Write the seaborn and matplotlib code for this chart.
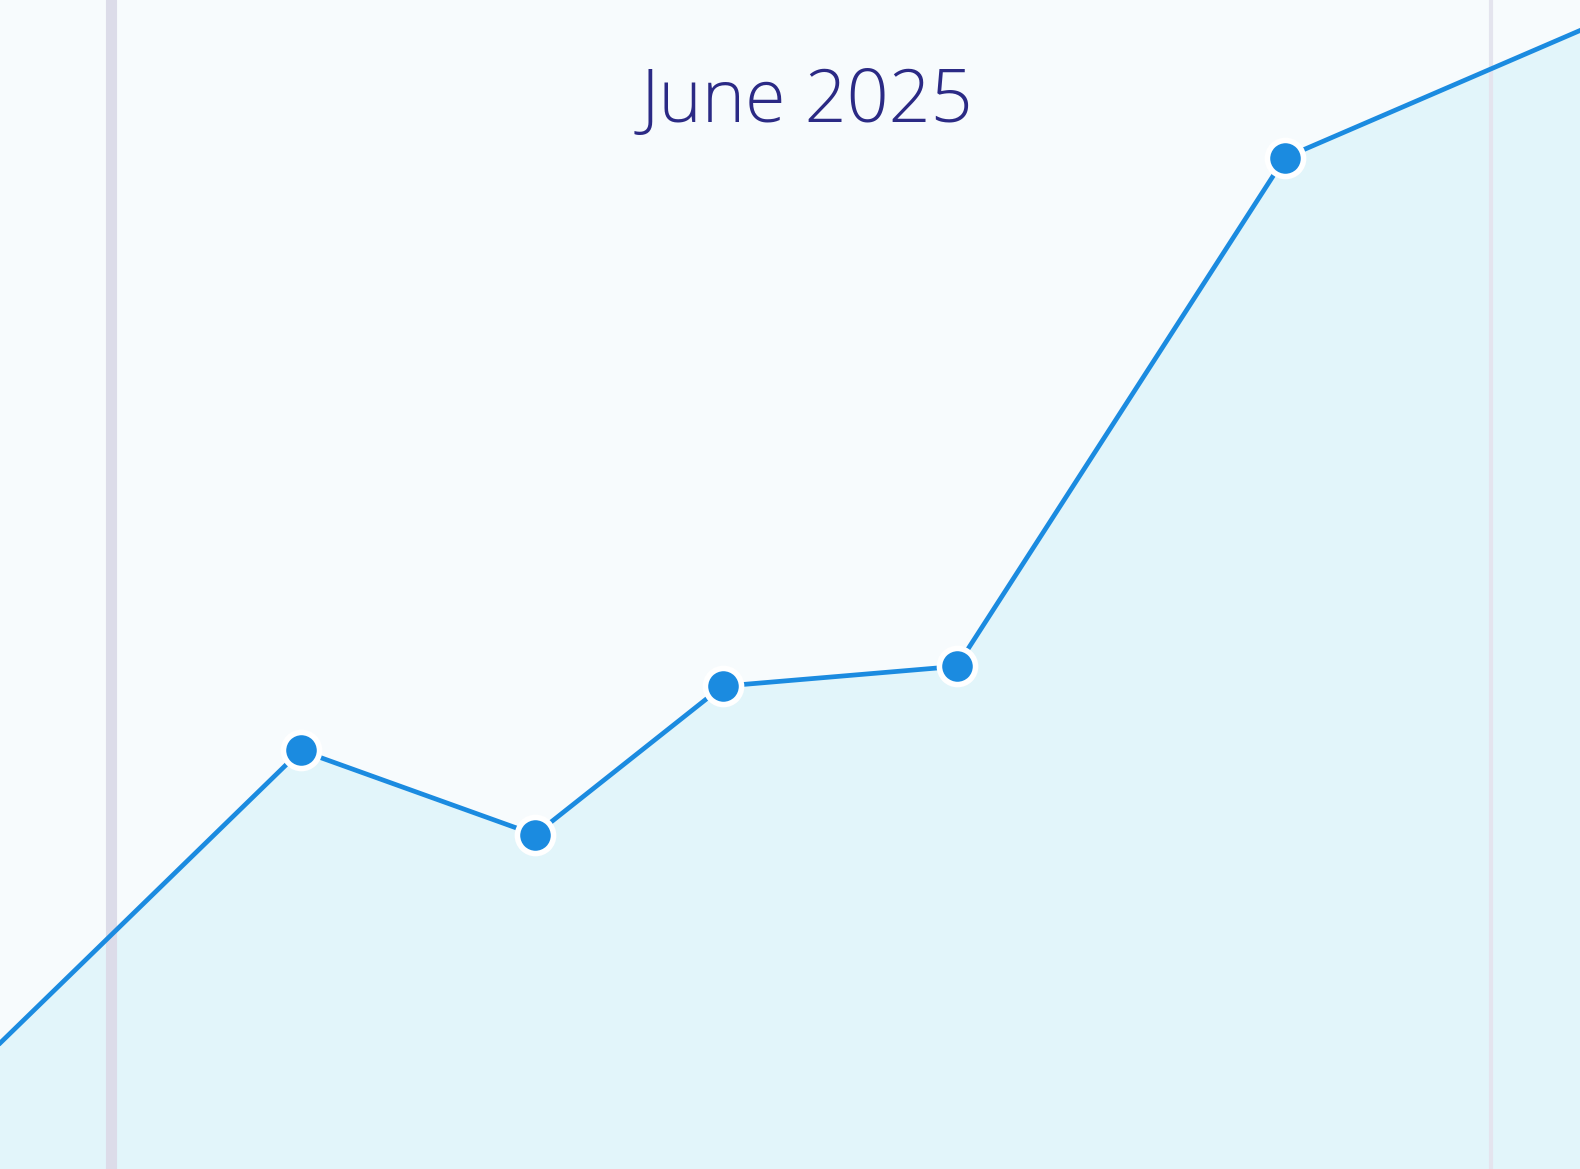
import matplotlib
matplotlib.use("Agg")
import matplotlib.pyplot as plt
import seaborn as sns
import pandas as pd

# day of month and value (arbitrary units, 0-100 scale)
days = [1, 8, 13, 17, 22, 29, 36]
values = [8.5, 35.8, 28.6, 41.3, 43.0, 86.5, 98.6]
title = "June 2025"

LINE = "#1b8be0"
FILL = "#e2f5fa"
BG = "#f7fbfd"
NAVY = "#2b2a85"

sns.set_theme(style="white")
plt.rcParams["font.family"] = ["Open Sans", "DejaVu Sans"]

df = pd.DataFrame({"day": days, "value": values})

fig = plt.figure(figsize=(15.8, 11.69), dpi=100)
fig.patch.set_facecolor(BG)
ax = fig.add_axes([0, 0, 1, 1])
ax.set_facecolor(BG)

ax.fill_between(df["day"], df["value"], 0, color=FILL, lw=0, zorder=1)
sns.lineplot(data=df, x="day", y="value", ax=ax, color=LINE, lw=3.4,
             marker="o", markersize=26, markerfacecolor=LINE,
             markeredgecolor="white", markeredgewidth=4, zorder=3)

# faint page-fold lines from the scan
ax.axvline(3.95, color="#dcdce9", lw=8, zorder=2)
ax.axvline(33.4, color="#e4e4ee", lw=3, zorder=2)

ax.set_xlim(1.58, 35.3)
ax.set_ylim(0, 100)
ax.set_xlabel("")
ax.set_ylabel("")
ax.set_xticks([])
ax.set_yticks([])
for s in ax.spines.values():
    s.set_visible(False)

fig.text(0.511, 0.912, title, ha="center", va="center", fontsize=53,
         color=NAVY, fontweight="light")

fig.savefig("out.png", dpi=100, facecolor=fig.get_facecolor())
